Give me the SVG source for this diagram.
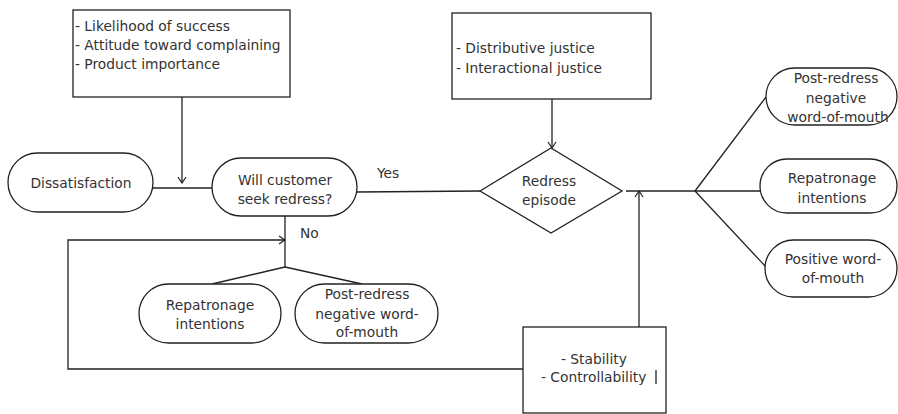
<svg xmlns="http://www.w3.org/2000/svg" width="898" height="414" viewBox="0 0 898 414">
<style>
  .shape { fill: #ffffff; stroke: #222222; stroke-width: 1.3; }
  .conn { fill: none; stroke: #222222; stroke-width: 1.3; }
  text { font-family: "DejaVu Sans", "Liberation Sans", sans-serif; font-size: 13.8px; fill: #333333; }
  .c { text-anchor: middle; }
</style>
<defs>
  <marker id="arr" viewBox="0 0 10 10" refX="9" refY="5" markerWidth="10" markerHeight="10" markerUnits="userSpaceOnUse" orient="auto">
    <path d="M3,1 L9,5 L3,9" fill="none" stroke="#222222" stroke-width="1.2"/>
  </marker>
</defs>
<rect width="898" height="414" fill="#ffffff"/>

<g id="connectors">
  <line class="conn" x1="182" y1="97" x2="182" y2="183" marker-end="url(#arr)"/>
  <line class="conn" x1="153" y1="188" x2="212" y2="188"/>
  <line class="conn" x1="357" y1="192" x2="480" y2="191"/>
  <line class="conn" x1="552" y1="99" x2="552" y2="148" marker-end="url(#arr)"/>
  <line class="conn" x1="626" y1="191" x2="695" y2="191"/>
  <line class="conn" x1="695" y1="191" x2="766" y2="97"/>
  <line class="conn" x1="695" y1="191" x2="760" y2="191"/>
  <line class="conn" x1="695" y1="191" x2="766" y2="267"/>
  <line class="conn" x1="639" y1="327" x2="639" y2="191" marker-end="url(#arr)"/>
  <line class="conn" x1="285" y1="216" x2="285" y2="267"/>
  <line class="conn" x1="285" y1="267" x2="212" y2="284"/>
  <line class="conn" x1="285" y1="267" x2="362" y2="284"/>
  <polyline class="conn" points="523,369 68,369 68,240 285,240" marker-end="url(#arr)"/>
  <text x="377" y="178">Yes</text>
  <text x="300" y="238">No</text>
</g>

<g id="antecedents">
  <rect class="shape" x="73" y="10" width="217" height="87"/>
  <text x="75" y="31">- Likelihood  of success</text>
  <text x="75" y="50">- Attitude toward complaining</text>
  <text x="75" y="69">- Product importance</text>
</g>

<g id="dissatisfaction">
  <rect class="shape" x="8" y="153" width="145" height="59" rx="29.5"/>
  <text class="c" x="81" y="188">Dissatisfaction</text>
</g>

<g id="seek-redress">
  <rect class="shape" x="212" y="158" width="145" height="58" rx="29"/>
  <text class="c" x="285" y="185">Will customer</text>
  <text class="c" x="285" y="204">seek redress?</text>
</g>

<g id="justice">
  <rect class="shape" x="452" y="13" width="199" height="86"/>
  <text x="456" y="53">- Distributive  justice</text>
  <text x="456" y="73">- Interactional  justice</text>
</g>

<g id="redress-episode">
  <polygon class="shape" points="480,191 551,148 622,191 551,233"/>
  <text class="c" x="549" y="186">Redress</text>
  <text class="c" x="549" y="205">episode</text>
</g>

<g id="post-negative-wom-right">
  <rect class="shape" x="766" y="68" width="131" height="57" rx="28.5"/>
  <text class="c" x="836" y="83">Post-redress</text>
  <text class="c" x="836" y="103">negative</text>
  <text class="c" x="838" y="122">word-of-mouth</text>
</g>

<g id="repatronage-right">
  <rect class="shape" x="760" y="159" width="137" height="54" rx="27"/>
  <text class="c" x="832" y="183">Repatronage</text>
  <text class="c" x="832" y="203">intentions</text>
</g>

<g id="positive-wom">
  <rect class="shape" x="765" y="240" width="132" height="57" rx="28.5"/>
  <text class="c" x="833" y="264">Positive word-</text>
  <text class="c" x="833" y="283">of-mouth</text>
</g>

<g id="repatronage-left">
  <rect class="shape" x="139" y="284" width="142" height="59" rx="29.5"/>
  <text class="c" x="210" y="310">Repatronage</text>
  <text class="c" x="210" y="329">intentions</text>
</g>

<g id="post-negative-wom-left">
  <rect class="shape" x="295" y="284" width="143" height="59" rx="29.5"/>
  <text class="c" x="367" y="299">Post-redress</text>
  <text class="c" x="367" y="319">negative word-</text>
  <text class="c" x="367" y="337">of-mouth</text>
</g>

<g id="attributions">
  <rect class="shape" x="523" y="327" width="143" height="86"/>
  <text x="561" y="364">- Stability</text>
  <text x="541" y="382">- Controllability</text>
  <line x1="656" y1="370" x2="656" y2="384" stroke="#222222" stroke-width="1.3"/>
</g>
</svg>
